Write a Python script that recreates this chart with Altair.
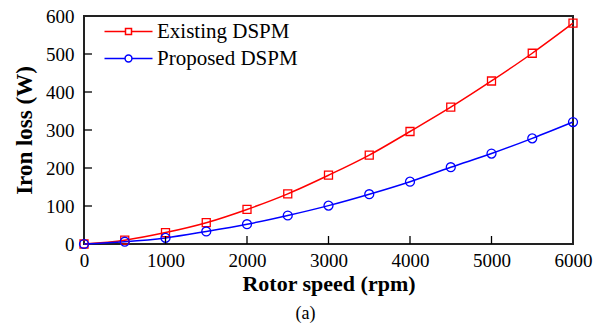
import altair as alt
import pandas as pd

speed = [0, 500, 1000, 1500, 2000, 2500, 3000, 3500, 4000, 4500, 5000, 5500, 6000]
existing = [0, 10, 30, 56, 91, 132, 181, 234, 296, 360, 429, 502, 581]
proposed = [0, 6, 16, 33, 52, 75, 101, 131, 164, 202, 238, 278, 321]
series_names = ["Existing DSPM", "Proposed DSPM"]
x_ticks = [1000, 2000, 3000, 4000, 5000]
y_ticks = [100, 200, 300, 400, 500]
x_labels = [0, 1000, 2000, 3000, 4000, 5000, 6000]
y_labels = [0, 100, 200, 300, 400, 500, 600]

rows = []
for s, e, p in zip(speed, existing, proposed):
    rows.append({"speed": s, "loss": e, "series": series_names[0]})
    rows.append({"speed": s, "loss": p, "series": series_names[1]})
df = pd.DataFrame(rows)

FONT = "Liberation Serif"
xs = alt.Scale(domain=[0, 6000], nice=False)
ys = alt.Scale(domain=[0, 600], nice=False)
col = alt.Scale(domain=series_names, range=["#ff0000", "#0000ff"])

sq_path = "M-8,0H-1M1,0H8M-1,-1H1V1H-1Z"
ci_path = "M-8,0H-1.15M1.15,0H8M-1.15,0A1.15,1.15,0,1,0,1.15,0A1.15,1.15,0,1,0,-1.15,0"
leg_shapes = alt.Scale(domain=series_names, range=[sq_path, ci_path])

xaxis = alt.Axis(title="Rotor speed (rpm)", values=x_labels,
                 format="d", tickSize=0, labelPadding=7, titlePadding=3, domain=False, grid=False,
                 labelOverlap=False, labelFlush=False)
yaxis = alt.Axis(title="Iron loss (W)", values=y_labels, tickCount=7, titleFontSize=23,
                 format="d", tickSize=0, labelPadding=10, titlePadding=9, domain=False, grid=False,
                 labelOverlap=False, labelFlush=False)

legend = alt.Legend(
    title=None, orient="none", legendX=34, legendY=5, padding=0,
    symbolSize=36, symbolStrokeWidth=1.5, symbolOpacity=1, symbolFillColor="transparent",
    labelOffset=18, rowPadding=5,
    labelFont=FONT, labelFontSize=21, labelColor="black",
)

base = alt.Chart(df)
X = alt.X("speed:Q", scale=xs, axis=xaxis)
Y = alt.Y("loss:Q", scale=ys, axis=yaxis)

legend_layer = base.mark_point(filled=False, size=36, opacity=0).encode(
    x=X, y=Y,
    color=alt.Color("series:N", scale=col, legend=legend),
    shape=alt.Shape("series:N", scale=leg_shapes, legend=legend),
)

lines = base.mark_line(interpolate="monotone", strokeWidth=1.5).encode(
    x=X, y=Y,
    color=alt.Color("series:N", scale=col, legend=legend),
)

sq_points = base.transform_filter(alt.datum.series == series_names[0]).mark_point(
    shape="square", filled=False, size=64, strokeWidth=1.3, opacity=1, color="#ff0000"
).encode(x=X, y=Y)
ci_points = base.transform_filter(alt.datum.series == series_names[1]).mark_point(
    shape="circle", filled=False, size=80, strokeWidth=1.3, opacity=1, color="#0000ff"
).encode(x=X, y=Y)

xt = pd.DataFrame({"v": x_ticks, "lo": [0] * len(x_ticks), "hi": [21] * len(x_ticks)})
yt = pd.DataFrame({"v": y_ticks, "lo": [0] * len(y_ticks), "hi": [98] * len(y_ticks)})

xtick_rules = alt.Chart(xt).mark_rule(color="black", strokeWidth=1.3).encode(
    x=alt.X("v:Q", scale=xs, axis=xaxis), y=alt.Y("lo:Q", scale=ys, axis=yaxis), y2="hi:Q")
ytick_rules = alt.Chart(yt).mark_rule(color="black", strokeWidth=1.3).encode(
    y=alt.Y("v:Q", scale=ys, axis=yaxis), x=alt.X("lo:Q", scale=xs, axis=xaxis), x2="hi:Q")

chart = alt.layer(legend_layer, lines, sq_points, ci_points, xtick_rules, ytick_rules).properties(
    width=489, height=228,
    background="white",
    autosize=alt.AutoSizeParams(type="none"),
    padding={"left": 84, "top": 16, "right": 31, "bottom": 80},
    title=alt.TitleParams("(a)", orient="bottom", font=FONT, fontSize=18,
                          fontWeight="normal", color="black", offset=11, dx=-23),
).configure_view(stroke="#222222", strokeWidth=2).configure_axis(
    labelFont=FONT, labelFontSize=19, labelColor="black", labelOverlap=False,
    titleFont=FONT, titleFontSize=22, titleFontWeight="bold", titleColor="black",
)

chart.save("out.html", embed_options={"renderer": "svg", "actions": False})
